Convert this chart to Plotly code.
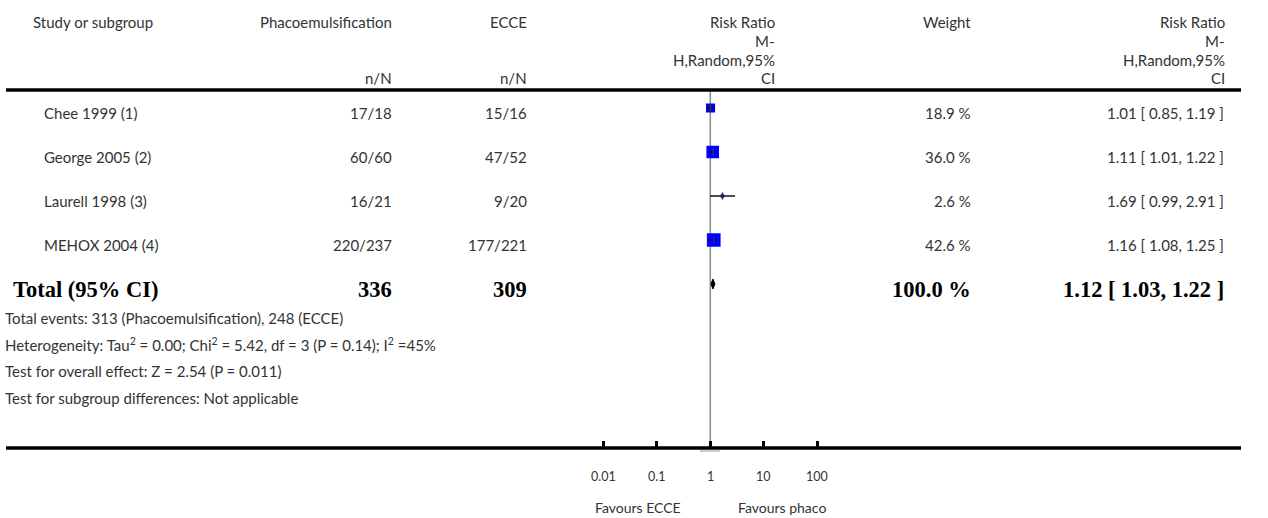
import math
import plotly.graph_objects as go

# ---------------- data ----------------
studies = ["Chee 1999 (1)", "George 2005 (2)", "Laurell 1998 (3)", "MEHOX 2004 (4)"]
phaco_events = [17, 60, 16, 220]
phaco_total = [18, 60, 21, 237]
ecce_events = [15, 47, 9, 177]
ecce_total = [16, 52, 20, 221]
weights = [18.9, 36.0, 2.6, 42.6]
rr = [1.01, 1.11, 1.69, 1.16]
rr_lo = [0.85, 1.01, 0.99, 1.08]
rr_hi = [1.19, 1.22, 2.91, 1.25]

total_label = "Total (95% CI)"
total_phaco = 336
total_ecce = 309
total_weight = 100.0
total_rr = 1.12
total_lo = 1.03
total_hi = 1.22

footnotes = [
    "Total events: 313 (Phacoemulsification), 248 (ECCE)",
    "Heterogeneity: Tau<sup>2</sup> = 0.00; Chi<sup>2</sup> = 5.42, df = 3 (P = 0.14); I<sup>2</sup> =45%",
    "Test for overall effect: Z = 2.54 (P = 0.011)",
    "Test for subgroup differences: Not applicable",
]

tick_vals = [0.01, 0.1, 1, 10, 100]
tick_labels = ["0.01", "0.1", "1", "10", "100"]
favours_left = "Favours ECCE"
favours_right = "Favours phaco"

# ---------------- layout constants (pixels) ----------------
W, H = 1268, 518
FONT = "Lato, 'Open Sans', sans-serif"
SERIF = "'Liberation Serif', 'Times New Roman', serif"
TXT = "#333333"
FS = 15

x_one = 710.3        # pixel of RR = 1
px_dec = 53.4        # pixels per decade
lg_min, lg_max = -2.5, 2.5
dom0 = (x_one + lg_min * px_dec) / W
dom1 = (x_one + lg_max * px_dec) / W

mark_top = 108.0     # pixel of first mark row
row_h = 44.0
y_top_val = -mark_top / row_h
y_bot_val = (H - mark_top) / row_h

text_row0 = 113.0
header_line_y = 90.0
axis_y = 447.0
foot_y0 = 318.0
foot_dy = 26.5


def yp(px):
    return 1 - px / H


def xp(px):
    return px / W


def yrow(px):
    return (px - mark_top) / row_h


fig = go.Figure()

# vertical line of no effect
fig.add_trace(go.Scatter(
    x=[1, 1], y=[yrow(header_line_y), yrow(axis_y)], mode="lines",
    line=dict(color="#8a8a8a", width=1.5), hoverinfo="skip", showlegend=False))

n = len(studies)
rows = list(range(n))

# squares (size grows with weight)
sizes = [2.1 * math.sqrt(w) for w in weights]
fig.add_trace(go.Scatter(
    x=rr, y=rows, mode="markers",
    marker=dict(symbol="square", size=sizes, color="#0000ff", opacity=1,
                line=dict(width=0)),
    hoverinfo="skip", showlegend=False))

# CI lines
for i in range(n):
    fig.add_trace(go.Scatter(
        x=[rr_lo[i], rr_hi[i]], y=[i, i], mode="lines",
        line=dict(color="#111111", width=1.3), hoverinfo="skip", showlegend=False))

# point ticks
fig.add_trace(go.Scatter(
    x=rr, y=rows, mode="markers",
    marker=dict(symbol="line-ns", size=5, line=dict(color="#333333", width=1.5)),
    hoverinfo="skip", showlegend=False))

# diamond
dh = 5.0 / row_h
fig.add_trace(go.Scatter(
    x=[total_lo, total_rr, total_hi, total_rr, total_lo],
    y=[n, n - dh, n, n + dh, n], mode="lines", fill="toself",
    fillcolor="#000000", line=dict(color="#000000", width=1),
    hoverinfo="skip", showlegend=False))

ann = []


def txt(x, y, s, anchor="left", size=FS, family=FONT, color=TXT):
    ann.append(dict(x=xp(x), y=yp(y), xref="paper", yref="paper", text=s,
                    showarrow=False, xanchor=anchor, yanchor="middle",
                    font=dict(family=family, size=size, color=color)))


# header
hy1, hy2, hy3, hy4 = 22.0, 40.5, 59.5, 78.0
txt(31, hy1, "Study or subgroup")
txt(394, hy1, "Phacoemulsification", "right")
txt(529, hy1, "ECCE", "right")
txt(394, hy4, "n/N", "right")
txt(529, hy4, "n/N", "right")
for xr in (777, 1227):
    txt(xr, hy1, "Risk Ratio", "right")
    txt(xr, hy2, "M-", "right")
    txt(xr, hy3, "H,Random,95%", "right")
    txt(xr, hy4, "CI", "right")
txt(973, hy1, "Weight", "right")

# study rows
for i in range(n):
    y = text_row0 + i * row_h
    txt(42, y, studies[i])
    txt(394, y, f"{phaco_events[i]}/{phaco_total[i]}", "right")
    txt(529, y, f"{ecce_events[i]}/{ecce_total[i]}", "right")
    txt(973, y, f"{weights[i]:.1f} %", "right")
    txt(1226, y, f"{rr[i]:.2f} [ {rr_lo[i]:.2f}, {rr_hi[i]:.2f} ]", "right")

# total row
ty = text_row0 + n * row_h
BS = 22.5
txt(11, ty, f"<b>{total_label}</b>", size=BS, family=SERIF, color="#000")
txt(394, ty, f"<b>{total_phaco}</b>", "right", size=BS, family=SERIF, color="#000")
txt(529, ty, f"<b>{total_ecce}</b>", "right", size=BS, family=SERIF, color="#000")
txt(973, ty, f"<b>{total_weight:.1f} %</b>", "right", size=BS, family=SERIF, color="#000")
txt(1226, ty, f"<b>{total_rr:.2f} [ {total_lo:.2f}, {total_hi:.2f} ]</b>", "right",
    size=BS, family=SERIF, color="#000")

# footnotes
for k, s in enumerate(footnotes):
    txt(3, foot_y0 + k * foot_dy, s)

# tick labels and favours
for v, lab in zip(tick_vals, tick_labels):
    ann.append(dict(x=math.log10(v), y=yp(476), xref="x", yref="paper", text=lab,
                    showarrow=False, xanchor="center", yanchor="middle",
                    font=dict(family=FONT, size=12.5, color=TXT)))
txt(638, 507, favours_left, "center", size=14)
txt(782, 507, favours_right, "center", size=14)

shapes = [
    dict(type="line", xref="paper", yref="paper", x0=xp(6), x1=xp(1241),
         y0=yp(header_line_y), y1=yp(header_line_y), line=dict(color="#000", width=3.5)),
    dict(type="line", xref="paper", yref="paper", x0=xp(6), x1=xp(1241),
         y0=yp(axis_y + 1), y1=yp(axis_y + 1), line=dict(color="#000", width=3.5)),
    dict(type="line", xref="paper", yref="paper", x0=xp(700), x1=xp(720),
         y0=yp(axis_y + 4), y1=yp(axis_y + 4), line=dict(color="#bbbbbb", width=1.5)),
]

fig.update_layout(
    width=W, height=H, margin=dict(l=0, r=0, t=0, b=0),
    paper_bgcolor="white", plot_bgcolor="rgba(0,0,0,0)",
    showlegend=False, annotations=ann, shapes=shapes,
    xaxis=dict(type="log", range=[lg_min, lg_max], domain=[dom0, dom1],
               anchor="free", position=yp(axis_y), showgrid=False, zeroline=False,
               showline=False, ticks="inside", ticklen=6, tickwidth=2.5, tickcolor="#000",
               tickvals=tick_vals, showticklabels=False, fixedrange=True),
    yaxis=dict(range=[y_bot_val, y_top_val], domain=[0, 1], visible=False,
               showgrid=False, zeroline=False, fixedrange=True),
)

fig.write_html("out.html", config={"displayModeBar": False},
               post_script="document.body.style.margin='0px';document.body.style.overflow='hidden';")
